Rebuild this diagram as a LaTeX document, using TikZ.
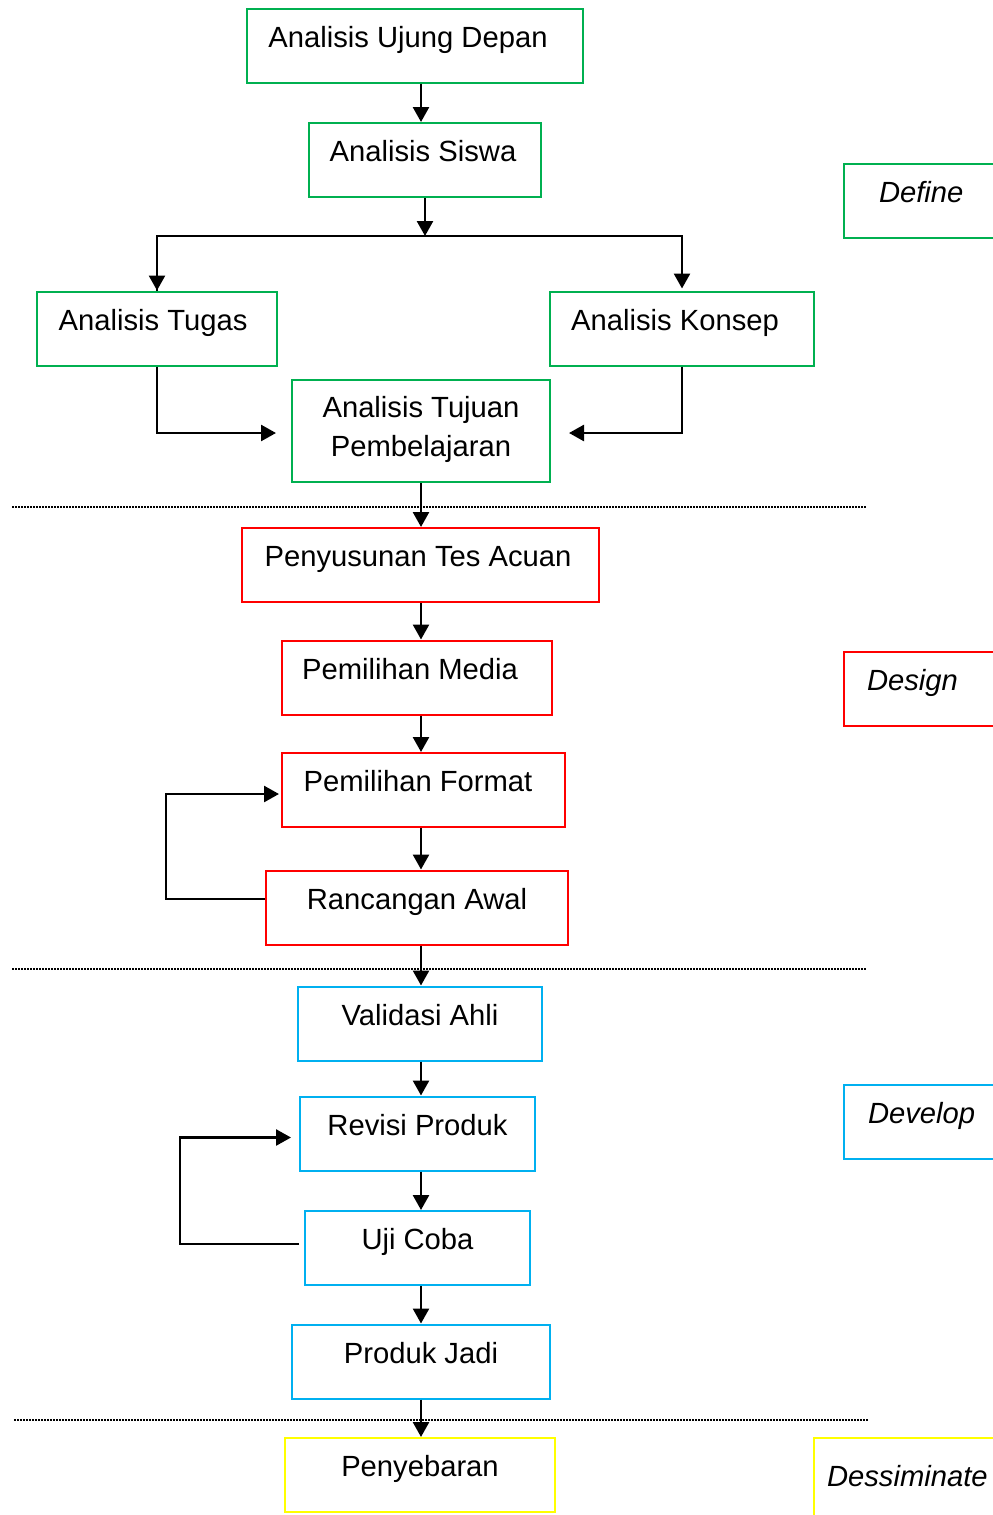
\documentclass[tikz,border=0pt]{standalone}
\usepackage{fontspec}
\setmainfont{Liberation Sans}
\usetikzlibrary{arrows.meta}
\definecolor{dgreen}{HTML}{00B050}
\definecolor{dred}{HTML}{FF0000}
\definecolor{dcyan}{HTML}{00B0F0}
\definecolor{dyellow}{HTML}{FFFF00}

\begin{document}
\begin{tikzpicture}[x=0.5pt,y=-0.5pt,
    box/.style={draw, line width=1pt, inner sep=0pt, minimum height=37pt,
        text height=10.5pt, text depth=9pt, font=\fontsize{14.6}{19.5}\selectfont},
    lpad/.style={execute at end node={\hskip#1}},
    phase/.style={box, anchor=west, text width=82pt, align=left,
        font=\fontsize{14.6}{19.5}\selectfont\itshape},
    arr/.style={line width=1.3pt, -{Triangle[length=7.5pt,width=8pt]}},
    sep/.style={line width=0.7pt, dash pattern=on 0.75pt off 0.75pt}
]
\useasboundingbox (0,0) rectangle (992,1515);

% define
\node[box, draw=dgreen, minimum width=168pt, lpad=7pt] (aud) at (415,45.5) {Analisis Ujung Depan};
\node[box, draw=dgreen, minimum width=116pt, lpad=2pt] (as) at (425,160) {Analisis Siswa};
\node[box, draw=dgreen, minimum width=120pt, lpad=4pt] (at) at (157,328.5) {Analisis Tugas};
\node[box, draw=dgreen, minimum width=132pt, lpad=7pt] (ak) at (682,328.5) {Analisis Konsep};
\node[box, draw=dgreen, minimum width=129pt, minimum height=51pt, align=center,
    text height=30pt, text depth=5pt] (atp) at (421,431) {Analisis Tujuan\\Pembelajaran};

% design
\node[box, draw=dred, minimum width=178.5pt, lpad=2.5pt] (pta) at (420.5,565) {Penyusunan Tes Acuan};
\node[box, draw=dred, minimum width=135pt, lpad=7pt] (pm) at (417,677.5) {Pemilihan Media};
\node[box, draw=dred, minimum width=141.5pt, lpad=5.5pt] (pf) at (423.5,790) {Pemilihan Format};
\node[box, draw=dred, minimum width=151pt] (ra) at (417,907.5) {Rancangan Awal};

% develop
\node[box, draw=dcyan, minimum width=122pt] (va) at (420,1023.5) {Validasi Ahli};
\node[box, draw=dcyan, minimum width=117.5pt] (rp) at (417.5,1133.5) {Revisi Produk};
\node[box, draw=dcyan, minimum width=112.5pt] (uc) at (417.5,1248) {Uji Coba};
\node[box, draw=dcyan, minimum width=129pt] (pj) at (421,1361.5) {Produk Jadi};

% disseminate
\node[box, draw=dyellow, minimum width=135pt] (peny) at (420,1475) {Penyebaran};

% phase labels
\node[phase, draw=dgreen, inner xsep=17.5pt] (define) at (843,201) {Define};
\node[phase, draw=dred, inner xsep=11.5pt] (design) at (843,689) {Design};
\node[phase, draw=dcyan, inner xsep=12pt] (develop) at (843,1121.5) {Develop};
\node[phase, draw=dyellow, inner xsep=6.5pt, minimum height=50pt, text depth=12pt]
    (dissem) at (813,1488) {Dessiminate};

\coordinate (spine) at (421,0);
\coordinate (split) at (425,236);

\draw[arr] (aud.south -| spine) -- (as.north -| spine);
\draw[arr] (as.south) -- (split);
\draw[line width=1.3pt] (split) -| (at.north);
\draw[arr] (split -| at.north) -- (at.north);
\draw[arr] (split) -| ([yshift=1pt]ak.north);
\draw[arr] (at.south) |- ([xshift=-7.5pt,yshift=-1pt]atp.west);
\draw[arr] (ak.south) |- ([xshift=9pt,yshift=-1pt]atp.east);
\draw[arr] (atp.south -| spine) -- (pta.north -| spine);
\draw[arr] (pta.south -| spine) -- (pm.north -| spine);
\draw[arr] (pm.south -| spine) -- (pf.north -| spine);
\draw[arr] (pf.south -| spine) -- (ra.north -| spine);
\draw[arr] ([yshift=4.25pt]ra.west) -- ++(-99,0) |- ([xshift=-1pt,yshift=-2pt]pf.west);
\draw[arr] (ra.south -| spine) -- (va.north -| spine);
\draw[arr] (va.south -| spine) -- (rp.north -| spine);
\draw[arr] (rp.south -| spine) -- (uc.north -| spine);
\draw[arr] ([xshift=-2.5pt,yshift=2pt]uc.west) -- ++(-119,0) |- ([xshift=-4pt,yshift=-2pt]rp.west);
\draw[arr] (uc.south -| spine) -- (pj.north -| spine);
\draw[arr] (pj.south -| spine) -- (peny.north -| spine);

% phase borders
\draw[sep] (12,507) -- (866,507);
\draw[sep] (12,969) -- (866,969);
\draw[sep] (14,1420) -- (869,1420);
\end{tikzpicture}
\end{document}
